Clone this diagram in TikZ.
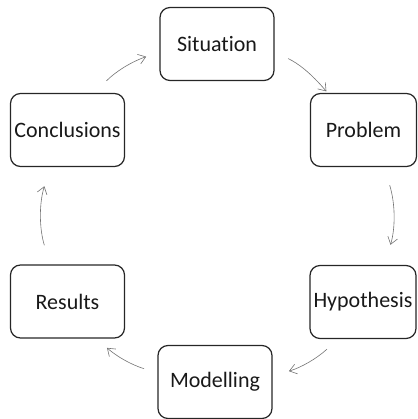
\documentclass[tikz,border=0pt]{standalone}
\usepackage{fontspec}
\setmainfont{Carlito}[Ligatures=NoCommon]
\usetikzlibrary{arrows.meta}

\begin{document}
\begin{tikzpicture}
[-,%
  box/.style={shape=rectangle,rounded corners=10pt,draw=black!85,line width=1.2pt,
    minimum width=114pt,minimum height=73pt,inner sep=0pt,text=black!90},%
  narrowbox/.style={box,minimum width=106pt},%
  flow/.style={-{Straight Barb[length=7pt,width=10pt]},draw=black!55,line width=0.6pt}]
\fontsize{22}{26}\selectfont
\useasboundingbox (-215pt,-204pt) rectangle (202pt,215pt);
\node[box] (sit) at (2pt,171pt) {Situation};
\node[narrowbox] (prob) at (148.5pt,85pt) {Problem};
\node[narrowbox] (hyp) at (148pt,-87pt) {Hypothesis};
\node[box] (mod) at (0pt,-167pt) {Modelling};
\node[box] (res) at (-147.5pt,-86.5pt) {Results};
\node[box] (con) at (-147.5pt,85pt) {Conclusions};
\draw[flow,shorten <=15pt,shorten >=2pt] (sit.-8) to[bend left=12] (prob.134);
\draw[flow,shorten <=19pt,shorten >=21pt] (prob.-61) to[bend left=17] (hyp.60);
\draw[flow,shorten <=15pt,shorten >=17pt] (hyp.-124) to[bend left=13] (mod.6);
\draw[flow,shorten <=14pt,shorten >=14pt] (mod.171) to[bend left=12] (res.-52);
\draw[flow,shorten <=20pt,shorten >=20pt] (res.115) to[bend left=17] (con.-115);
\draw[flow,shorten <=17pt,shorten >=14pt] (con.54) to[bend left=13] (sit.188);
\end{tikzpicture}
\end{document}
